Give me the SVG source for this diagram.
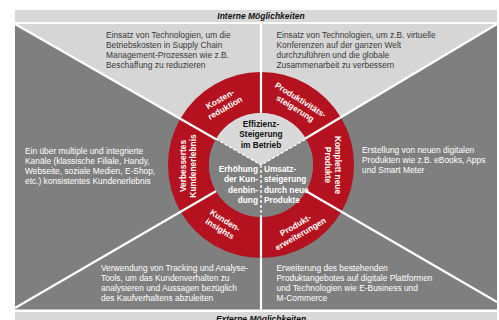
<svg xmlns="http://www.w3.org/2000/svg" width="499" height="320" viewBox="0 0 499 320">
  <style>
    .bar { fill: #d9d9d9; }
    .bar-label { font: italic bold 8.5px "Liberation Sans", Arial, sans-serif; fill: #111; text-anchor: middle; }
    .panel-dark { fill: #7f7f7f; }
    .panel-light { fill: #d6d6d6; }
    .seg { fill: #b3121e; }
    .seg-label { font: bold 8.4px "Liberation Sans", Arial, sans-serif; fill: #fff; text-anchor: middle; }
    .core-light { fill: #d9d9d9; }
    .core-dark { fill: #808080; }
    .core-label { font: bold 8.3px "Liberation Sans", Arial, sans-serif; }
    .desc { font: 8.4px "Liberation Sans", Arial, sans-serif; }
    .on-light { fill: #3a3a3a; }
    .on-dark { fill: #ffffff; }
    .divider { stroke: #fff; stroke-width: 2.2; fill: none; }
    .dashed { stroke: #fff; stroke-width: 1.4; stroke-dasharray: 3 2; fill: none; }
  </style>

  <rect width="499" height="320" fill="#fff"/>

  <!-- header / footer bars -->
  <g id="bar-intern">
    <rect class="bar" x="15" y="10" width="482" height="12"/>
    <text class="bar-label" x="261" y="18.6">Interne Möglichkeiten</text>
  </g>
  <g id="bar-extern">
    <rect class="bar" x="15" y="312" width="482" height="14"/>
    <text class="bar-label" x="261" y="322.3">Externe Möglichkeiten</text>
  </g>

  <!-- background field -->
  <rect class="panel-dark" x="15" y="24" width="482" height="285.5"/>
  <polygon class="panel-light" points="15,24 497,24 261,165"/>

  <!-- ring segments -->
  <g id="seg-kostenreduktion">
    <path class="seg" d="M180.46,118.5 A93,93 0 0 1 261,72 L261,113 A52,52 0 0 0 215.97,139 Z"/>
    <text class="seg-label" transform="translate(222.5,103.5) rotate(-30)"><tspan x="0" y="-2">Kosten-</tspan><tspan x="0" y="8">reduktion</tspan></text>
  </g>
  <g id="seg-produktivitaet">
    <path class="seg" d="M261,72 A93,93 0 0 1 341.54,118.5 L306.03,139 A52,52 0 0 0 261,113 Z"/>
    <text class="seg-label" transform="translate(298,104) rotate(32)"><tspan x="0" y="-2">Produktivitäts-</tspan><tspan x="0" y="8">steigerung</tspan></text>
  </g>
  <g id="seg-neue-produkte">
    <path class="seg" d="M341.54,118.5 A93,93 0 0 1 341.54,211.5 L306.03,191 A52,52 0 0 0 306.03,139 Z"/>
    <text class="seg-label" transform="translate(333,165) rotate(90)"><tspan x="0" y="-2">Komplett neue</tspan><tspan x="0" y="8">Produkte</tspan></text>
  </g>
  <g id="seg-produkterweiterungen">
    <path class="seg" d="M341.54,211.5 A93,93 0 0 1 261,258 L261,217 A52,52 0 0 0 306.03,191 Z"/>
    <text class="seg-label" transform="translate(298,229.5) rotate(-30)"><tspan x="0" y="-2">Produkt-</tspan><tspan x="0" y="8">erweiterungen</tspan></text>
  </g>
  <g id="seg-kundeninsights">
    <path class="seg" d="M261,258 A93,93 0 0 1 180.46,211.5 L215.97,191 A52,52 0 0 0 261,217 Z"/>
    <text class="seg-label" transform="translate(222.5,224.5) rotate(32)"><tspan x="0" y="-2">Kunden-</tspan><tspan x="0" y="8">insights</tspan></text>
  </g>
  <g id="seg-kundenerlebnis">
    <path class="seg" d="M180.46,211.5 A93,93 0 0 1 180.46,118.5 L215.97,139 A52,52 0 0 0 215.97,191 Z"/>
    <text class="seg-label" transform="translate(188,166) rotate(-90)"><tspan x="0" y="-2">Verbessertes</tspan><tspan x="0" y="8">Kundenerlebnis</tspan></text>
  </g>

  <!-- white dividers -->
  <g id="connectors">
    <line class="divider" x1="15" y1="24" x2="261" y2="165"/>
    <line class="divider" x1="497" y1="24" x2="261" y2="165"/>
    <line class="divider" x1="15" y1="308" x2="261" y2="165"/>
    <line class="divider" x1="497" y1="302" x2="261" y2="165"/>
    <line class="divider" x1="261" y1="24" x2="261" y2="165"/>
    <line class="divider" x1="261" y1="165" x2="261" y2="309.5"/>
  </g>

  <!-- core -->
  <g id="core-effizienz">
    <path class="core-light" d="M261,165 L215.97,139 A52,52 0 0 1 306.03,139 Z"/>
    <text class="core-label" fill="#111" text-anchor="middle"><tspan x="261" y="126.5">Effizienz-</tspan><tspan x="261" y="137">Steigerung</tspan><tspan x="261" y="147.5">im Betrieb</tspan></text>
  </g>
  <g id="core-kundenbindung">
    <path class="core-dark" d="M261,165 L261,217 A52,52 0 0 1 215.97,139 Z"/>
    <text class="core-label" fill="#fff" text-anchor="end"><tspan x="258" y="172">Erhöhung</tspan><tspan x="258" y="182.3">der Kun-</tspan><tspan x="258" y="192.6">denbin-</tspan><tspan x="258" y="203">dung</tspan></text>
  </g>
  <g id="core-umsatz">
    <path class="core-dark" d="M261,165 L306.03,139 A52,52 0 0 1 261,217 Z"/>
    <text class="core-label" fill="#fff"><tspan x="264" y="172">Umsatz-</tspan><tspan x="264" y="182.3">steigerung</tspan><tspan x="264" y="192.6">durch neue</tspan><tspan x="264" y="203">Produkte</tspan></text>
  </g>
  <path class="dashed" d="M215.97,139 L261,165 L306.03,139 M261,165 L261,217"/>

  <!-- descriptions -->
  <g id="text-kostenreduktion">
    <text class="desc on-light"><tspan x="106" y="37.6">Einsatz von Technologien, um die</tspan><tspan x="106" y="47.6">Betriebskosten in Supply Chain</tspan><tspan x="106" y="57.6">Management-Prozessen wie z.B.</tspan><tspan x="106" y="67.6">Beschaffung zu reduzieren</tspan></text>
  </g>
  <g id="text-produktivitaet">
    <text class="desc on-light"><tspan x="276.5" y="37.6">Einsatz von Technologien, um z.B. virtuelle</tspan><tspan x="276.5" y="47.6">Konferenzen auf der ganzen Welt</tspan><tspan x="276.5" y="57.6">durchzuführen und die globale</tspan><tspan x="276.5" y="67.6">Zusammenarbeit zu verbessern</tspan></text>
  </g>
  <g id="text-kundenerlebnis">
    <text class="desc on-dark"><tspan x="25" y="153.6">Ein über multiple und integrierte</tspan><tspan x="25" y="163.6">Kanäle (klassische Filiale, Handy,</tspan><tspan x="25" y="173.6">Webseite, soziale Medien, E-Shop,</tspan><tspan x="25" y="183.6">etc.) konsistentes Kundenerlebnis</tspan></text>
  </g>
  <g id="text-neue-produkte">
    <text class="desc on-dark"><tspan x="362" y="153">Erstellung von neuen digitalen</tspan><tspan x="362" y="163">Produkten wie z.B. eBooks, Apps</tspan><tspan x="362" y="173">und Smart Meter</tspan></text>
  </g>
  <g id="text-kundeninsights">
    <text class="desc on-dark"><tspan x="101" y="271.3">Verwendung von Tracking und Analyse-</tspan><tspan x="101" y="281.3">Tools, um das Kundenverhalten zu</tspan><tspan x="101" y="291.3">analysieren und Aussagen bezüglich</tspan><tspan x="101" y="301.3">des Kaufverhaltens abzuleiten</tspan></text>
  </g>
  <g id="text-produkterweiterungen">
    <text class="desc on-dark"><tspan x="276.5" y="271.3">Erweiterung des bestehenden</tspan><tspan x="276.5" y="281.3">Produktangebotes auf digitale Plattformen</tspan><tspan x="276.5" y="291.3">und Technologien wie E-Business und</tspan><tspan x="276.5" y="301.3">M-Commerce</tspan></text>
  </g>
</svg>
